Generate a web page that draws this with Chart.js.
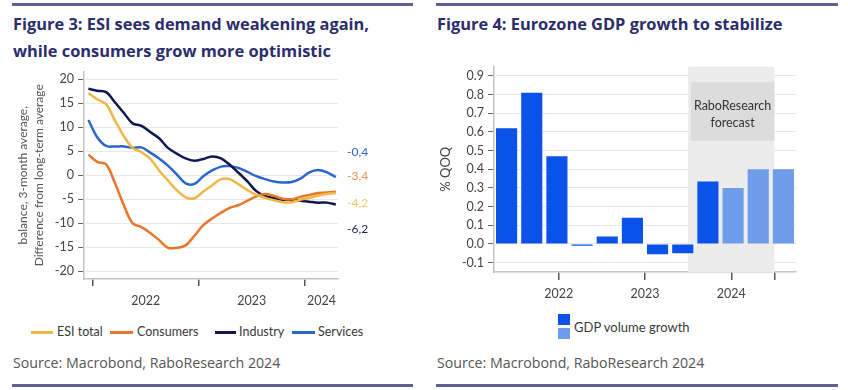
<!DOCTYPE html>
<html><head><meta charset="utf-8">
<script src="https://cdn.jsdelivr.net/npm/chart.js@4.4.1/dist/chart.umd.min.js"></script>
<style>
html,body{margin:0;padding:0;background:#fff}
body{width:848px;height:390px;position:relative;overflow:hidden;font-family:Lato,"Open Sans",sans-serif}
.rule{position:absolute;height:3px;background:#5e608f}
.title{position:absolute;color:#2b2d6c;font-family:"Open Sans",sans-serif;font-weight:bold;font-size:16.4px;line-height:27px;white-space:nowrap}
.src{position:absolute;color:#555;font-family:"Open Sans",sans-serif;font-size:14.2px;line-height:20px;white-space:nowrap}
.lg{position:absolute;color:#3a3a3a;font-size:12.5px;line-height:20px;height:20px;white-space:nowrap}
.sw{position:absolute;height:3px}
.sq{position:absolute;width:12px;height:11px}
.end{position:absolute;font-size:12px;line-height:16px;height:16px;white-space:nowrap}
canvas{position:absolute}
</style>
</head><body>
<div class="rule" style="left:12px;top:3px;width:401px"></div>
<div class="rule" style="left:436px;top:3px;width:402px"></div>
<div class="title" style="left:13px;top:10px">Figure 3: ESI sees demand weakening again,<br>while consumers grow more optimistic</div>
<div class="title" style="left:437px;top:10px">Figure 4: Eurozone GDP growth to stabilize</div>

<canvas id="left" width="424" height="250" style="left:0;top:60px;width:424px;height:250px"></canvas>
<canvas id="right" width="424" height="255" style="left:424px;top:55px;width:424px;height:255px"></canvas>

<div id="endLabels"></div>

<div class="sw" style="left:31px;top:331px;width:22px;background:#F1B744"></div>
<div class="lg" style="left:57px;top:322px">ESI total</div>
<div class="sw" style="left:110px;top:331px;width:23px;background:#E8762B"></div>
<div class="lg" style="left:137px;top:322px">Consumers</div>
<div class="sw" style="left:215px;top:331px;width:21px;background:#0F1650"></div>
<div class="lg" style="left:239px;top:322px">Industry</div>
<div class="sw" style="left:292px;top:331px;width:23px;background:#2A66CF"></div>
<div class="lg" style="left:318px;top:322px">Services</div>

<div class="sq" style="left:558px;top:314px;background:#0A52E8"></div>
<div class="sq" style="left:558px;top:328px;background:#6E9DEB"></div>
<div class="lg" style="left:574px;top:317px;font-size:13px">GDP volume growth</div>

<div class="src" style="left:13px;top:353px">Source: Macrobond, RaboResearch 2024</div>
<div class="src" style="left:437px;top:353px">Source: Macrobond, RaboResearch 2024</div>
<div class="rule" style="left:12px;top:384px;width:401px"></div>
<div class="rule" style="left:436px;top:384px;width:402px"></div>

<script>
// ---------- Figure 3 data ----------
const months = ['2021-12','2022-01','2022-02','2022-03','2022-04','2022-05','2022-06','2022-07','2022-08','2022-09','2022-10','2022-11','2022-12',
  '2023-01','2023-02','2023-03','2023-04','2023-05','2023-06','2023-07','2023-08','2023-09','2023-10','2023-11','2023-12',
  '2024-01','2024-02','2024-03','2024-04'];
const esiTotal  = [17.1, 15.8, 14.8, 11.4, 8.2, 5.7, 4.8, 3.4, 1.0, -1.1, -3.1, -4.6, -4.8, -3.4, -2.1, -0.8, -0.8, -1.9, -3.1, -4.1, -4.7, -5.2, -5.6, -5.6, -5.1, -4.7, -4.2, -3.9, -3.7];
const consumers = [4.3, 2.8, 2.3, -1.6, -6.2, -10.0, -10.8, -12.0, -13.5, -15.1, -15.1, -14.6, -12.6, -10.4, -9.0, -7.8, -6.8, -6.2, -5.3, -4.4, -3.9, -4.3, -4.9, -5.0, -4.5, -4.1, -3.7, -3.6, -3.4];
const industry  = [18.0, 17.6, 17.3, 15.2, 13.0, 10.8, 10.3, 9.0, 7.7, 5.7, 4.5, 3.5, 3.0, 3.4, 3.9, 3.5, 2.2, 0.5, -1.3, -3.3, -4.3, -4.8, -5.1, -5.1, -5.3, -5.5, -5.7, -5.7, -6.1];
const services  = [11.5, 7.9, 6.1, 6.0, 6.0, 5.7, 5.8, 4.7, 3.5, 2.0, 0.2, -1.7, -1.8, -0.2, 1.0, 1.8, 1.9, 1.5, 0.7, -0.2, -0.8, -1.3, -1.5, -1.4, -0.7, 0.6, 1.1, 0.6, -0.4];
const esiYTicks = [20, 15, 10, 5, 0, -5, -10, -15, -20];
const years = ['2022', '2023', '2024'];
const latestLabels = ['-0,4', '-3,4', '-4,2', '-6,2'];

// ---------- Figure 4 data ----------
const quarters = ['2022 Q1','2022 Q2','2022 Q3','2022 Q4','2023 Q1','2023 Q2','2023 Q3','2023 Q4','2024 Q1','2024 Q2','2024 Q3','2024 Q4'];
const gdpGrowth = [0.62, 0.81, 0.47, -0.01, 0.04, 0.14, -0.055, -0.05, 0.335, 0.30, 0.40, 0.40];
const isForecast = [false, false, false, false, false, false, false, false, false, true, true, true];
const gdpYTicks = [0.9, 0.8, 0.7, 0.6, 0.5, 0.4, 0.3, 0.2, 0.1, 0.0, -0.1];

const FONT = 'Lato';
const COL = {esi:'#F1B744', con:'#E8762B', ind:'#0F1650', ser:'#2A66CF', dark:'#0A52E8', light:'#6E9DEB'};

// month string -> position on a monthly axis (0 = start of Jan 2022), centred mid-month
function monthPos(s){ const [y,m] = s.split('-').map(Number); return (y-2022)*12 + (m-1) + 0.5; }
function series(vals){ return vals.map((v,i)=>({x: monthPos(months[i]), y: v})); }

// year label positions: centred in each year span that is visible
const xMinL = -1, xMaxL = 27.75;
const yearBounds = years.map((y,i)=>i*12);
const yearMids = years.map((y,i)=>{ const a=i*12, b=Math.min(a+12, xMaxL); return (a+b)/2; });

// end labels (HTML text)
(function(){
  const cols = [COL.ser, '#E3934A', '#EFC66A', '#1A1F50'];
  const tops = [144, 168, 195, 221];
  const host = document.getElementById('endLabels');
  latestLabels.forEach((t,i)=>{
    const d = document.createElement('div');
    d.className = 'end'; d.textContent = t;
    d.style.left = '347px'; d.style.top = tops[i]+'px'; d.style.color = cols[i];
    host.appendChild(d);
  });
})();

new Chart(document.getElementById('left'), {
  type: 'line',
  data: { datasets: [
    {label:'ESI total', data: series(esiTotal), borderColor: COL.esi},
    {label:'Consumers', data: series(consumers), borderColor: COL.con},
    {label:'Industry', data: series(industry), borderColor: COL.ind},
    {label:'Services', data: series(services), borderColor: COL.ser},
  ]},
  options: {
    responsive:false, animation:false,
    layout:{padding:{top:4, right:86, left:0, bottom:0}},
    plugins:{legend:{display:false}, tooltip:{enabled:false}},
    elements:{line:{tension:0.35, borderWidth:2.5, fill:false}, point:{radius:0}},
    scales:{
      x:{type:'linear', min:xMinL, max:xMaxL,
        afterBuildTicks: s => { s.ticks = yearBounds.map(v=>({value:v})).concat(yearMids.map(v=>({value:v}))); },
        afterFit: s => { s.height = 31; },
        ticks:{autoSkip:false, maxRotation:0, padding:7, color:'#444', font:{family:FONT, size:12.5},
          callback: v => { const i = yearMids.indexOf(v); return i>=0 ? years[i] : ''; }},
        grid:{drawOnChartArea:false, tickLength:7, lineWidth:1.5,
          color: c => (c.tick && yearMids.indexOf(c.tick.value)>=0) ? 'rgba(0,0,0,0)' : '#555'},
        border:{color:'#c4c4c4', width:1.5}
      },
      y:{min:-21.6, max:21.6,
        afterBuildTicks: s => { s.ticks = esiYTicks.map(v=>({value:v})); },
        afterFit: s => { s.width = 84; },
        ticks:{padding:4, color:'#444', font:{family:FONT, size:12.5}},
        grid:{color:'#e8e8e8', tickColor:'#666', tickLength:6, lineWidth:1},
        border:{color:'#c4c4c4', width:1.5},
        title:{display:true, text:['balance, 3-month average,','Difference from long-term average'],
          color:'#555', font:{family:FONT, size:12, lineHeight:1.35}, padding:{top:15, bottom:0}}
      }
    }
  }
});

const forecastPlugin = {
  id:'forecast',
  beforeDatasetsDraw(chart){
    const {ctx, chartArea:a, scales} = chart;
    const x2 = scales.x2, y = scales.y;
    const xs = x2.getPixelForValue(8), xe = x2.getPixelForValue(12);
    ctx.save();
    ctx.fillStyle = '#ececec';
    ctx.fillRect(xs, a.top, xe - xs, a.bottom - a.top);
    const bx = x2.getPixelForValue(8.12), by1 = y.getPixelForValue(0.866), by2 = y.getPixelForValue(0.552);
    ctx.fillStyle = '#dcdcdc';
    ctx.fillRect(bx, by1, xe - bx, by2 - by1);
    ctx.fillStyle = '#333';
    ctx.font = '12.5px ' + FONT;
    ctx.textAlign = 'center'; ctx.textBaseline = 'middle';
    const cx = (bx + xe)/2;
    ctx.fillText('RaboResearch', cx, by1 + 24);
    ctx.fillText('forecast', cx, by1 + 41);
    ctx.restore();
  }
};

const qYearBounds = [0, 4, 8, 12];
const qYearMids = [2, 6, 10];

new Chart(document.getElementById('right'), {
  type:'bar',
  data:{ labels: quarters, datasets:[{
    label:'GDP volume growth', data: gdpGrowth,
    backgroundColor: isForecast.map(f => f ? COL.light : COL.dark),
    borderWidth:0, categoryPercentage:1, barPercentage:0.84
  }]},
  options:{
    responsive:false, animation:false,
    layout:{padding:{top:7, right:52, left:0, bottom:0}},
    plugins:{legend:{display:false}, tooltip:{enabled:false}},
    scales:{
      x:{display:false, offset:true},
      x2:{type:'linear', position:'bottom', min:0, max:12,
        afterBuildTicks: s => { s.ticks = qYearBounds.map(v=>({value:v})).concat(qYearMids.map(v=>({value:v}))); },
        afterFit: s => { s.height = 38; },
        ticks:{autoSkip:false, maxRotation:0, padding:6, color:'#444', font:{family:FONT, size:12.5},
          callback: v => { const i = qYearMids.indexOf(v); return i>=0 ? years[i] : ''; }},
        grid:{drawOnChartArea:false, tickLength:8, lineWidth:1.5,
          color: c => (c.tick && qYearMids.indexOf(c.tick.value)>=0) ? 'rgba(0,0,0,0)' : '#555'},
        border:{color:'#c4c4c4', width:1.5}
      },
      y:{min:-0.15, max:0.95,
        afterBuildTicks: s => { s.ticks = gdpYTicks.map(v=>({value:v})); },
        afterFit: s => { s.width = 70; },
        ticks:{padding:4, color:'#444', font:{family:FONT, size:12.5}, callback: v => Number(v).toFixed(1)},
        grid:{color:'#e8e8e8', tickColor:'#666', tickLength:6},
        border:{color:'#c4c4c4', width:1.5},
        title:{display:true, text:'% QOQ', color:'#444', font:{family:FONT, size:13}, padding:{top:14, bottom:0}}
      }
    }
  },
  plugins:[forecastPlugin]
});
</script>
</body></html>
